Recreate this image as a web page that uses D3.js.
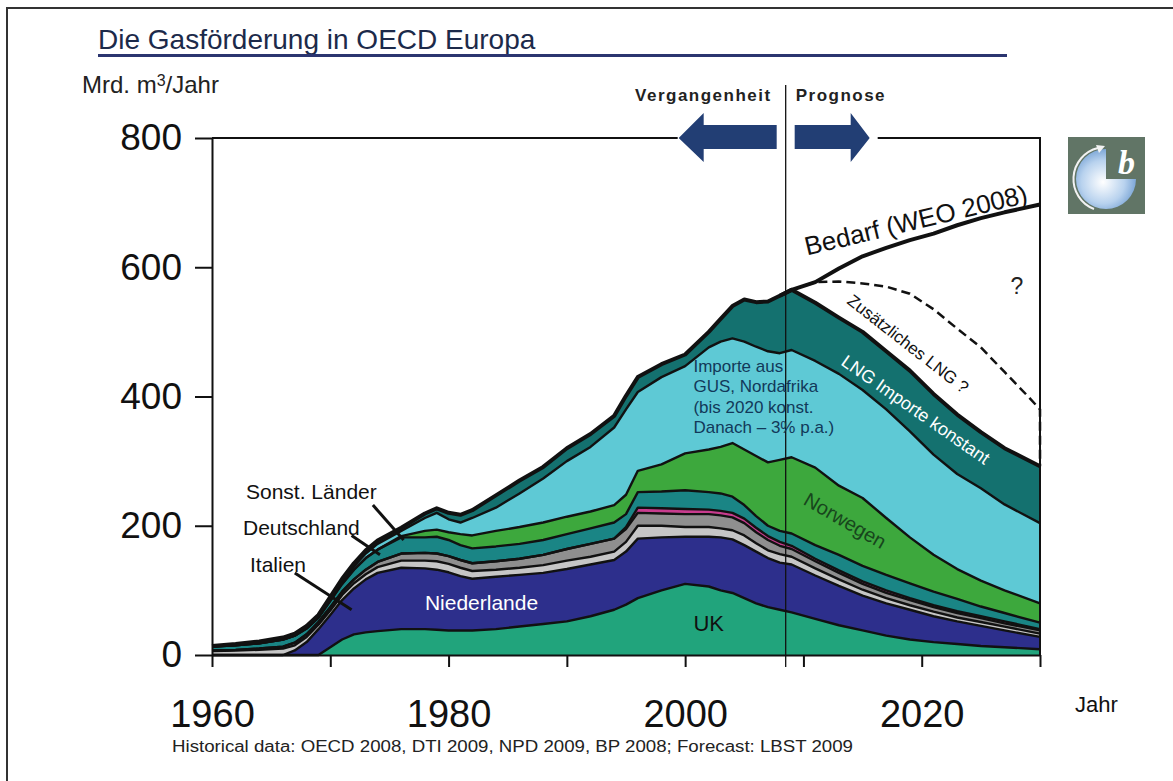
<!DOCTYPE html>
<html>
<head>
<meta charset="utf-8">
<script src="https://cdn.jsdelivr.net/npm/d3@7"></script>
<style>
  body { margin: 0; background: #fff; }
  svg { display: block; font-family: "Liberation Sans", Arial, sans-serif; }
</style>
</head>
<body>
<svg id="chart"></svg>
<script>
const width = 1173, height = 781;

// --- data (Mrd. m3/Jahr) ---
const years = [1960,1962,1964,1966,1967,1968,1969,1970,1971,1972,1973,1974,1976,1978,1979,1980,1981,1982,1984,1986,1988,1990,1992,1994,1995,1996,1998,2000,2002,2003,2004,2005,2006,2007,2008,2009,2011,2013,2015,2017,2019,2021,2023,2025,2027,2030];
const uk          = [0,0,0,0,0,0,0,12,24,32,35,37,40,40,39,38,38,38,40,44,48,52,60,70,78,88,100,110,106,100,96,88,80,74,70,66,56,46,38,30,24,20,17,14,12,9];
const niederlande = [0,0,0,0,7,20,40,50,61,71,82,90,95,94,93,90,84,80,81,80,79,81,80,77,82,92,82,73,77,82,83,82,80,76,73,74,67,61,54,50,46,40,35,31,26,19];
const italien     = [6,7,8,10,8,8,7,7,8,8,8,9,11,12,13,13,13,12,11,11,12,13,12,13,15,20,18,15,15,14,14,15,13,12,13,12,11,10,9,8,7,7,6,6,6,5];
const deutschland = [1,1,2,3,4,4,4,5,5,6,7,8,11,12,12,12,12,12,13,14,16,18,20,20,20,20,19,20,20,20,20,19,17,16,13,12,11,10,9,8,8,7,7,6,5,5];
const daenemark   = [0,0,0,0,0,0,0,0,0,0,0,0,0,0,0,0,0,0,0,0,0,0,0,0,3,8,8,8,7,7,7,7,7,6,6,5,4,4,4,4,3,3,3,3,3,2];
const sonstige    = [6,7,8,11,11,9,7,10,12,15,18,19,25,24,26,25,23,23,23,23,23,23,24,25,20,24,26,29,27,27,25,21,18,16,17,19,21,24,24,24,23,21,19,15,13,10];
const norwegen    = [0,0,0,0,0,0,0,0,0,0,0,0,2,10,11,12,17,20,24,26,27,27,26,27,30,33,42,57,66,72,83,86,93,98,110,118,120,107,105,88,71,57,46,40,35,30];
const importeGUS  = [0,0,0,0,0,1,1,2,3,5,7,9,8,20,26,20,18,27,36,52,68,86,100,120,132,122,135,135,158,163,162,167,169,172,165,166,165,173,167,168,164,155,147,143,133,124];
const lngImporte  = [1,2,3,3,3,3,3,4,5,5,5,5,5,7,7,10,12,12,19,20,18,20,20,18,21,23,20,18,24,35,50,65,69,77,89,93,90,87,90,90,94,94,92,87,87,88];

const demandYears = [2008,2009,2011,2013,2015,2017,2019,2021,2023,2025,2027,2030];
const demand      = [556,565,577,598,617,630,642,652,665,676,685,697];
const extraLngYears = [2009,2011,2013,2015,2017,2019,2021,2023,2025,2027,2029,2030,2030];
const extraLng      = [565,577,578,575,570,559,535,505,476,438,400,380,292];

const xTickYears = [1960,1970,1980,1990,2000,2010,2020,2030];
const xLabels = [1960,1980,2000,2020];
const yTicks = [0,200,400,600,800];
const splitYear = 2008.5;

const keys = ["uk","niederlande","italien","deutschland","daenemark","sonstige","norwegen","importeGUS","lngImporte"];
const colors = {
  uk: "#21a47c", niederlande: "#2d2f8c", italien: "#c6c6c6", deutschland: "#8f8f8f",
  daenemark: "#c83c8e", sonstige: "#1a8585", norwegen: "#3da83d", importeGUS: "#5ec9d5", lngImporte: "#14716f"
};
const series = {uk, niederlande, italien, deutschland, daenemark, sonstige, norwegen, importeGUS, lngImporte};
const table = years.map((yr, i) => {
  const row = {year: yr};
  keys.forEach(k => row[k] = series[k][i]);
  return row;
});

const svg = d3.select("#chart").attr("width", width).attr("height", height);

const x = d3.scaleLinear().domain([1960, 2030]).range([212, 1040]);
const y = d3.scaleLinear().domain([0, 800]).range([655, 138]);

// outer frame
svg.append("path").attr("d", "M7,781 V8 H1173").attr("fill", "none").attr("stroke", "#333").attr("stroke-width", 2);

// title
svg.append("text").attr("x", 98).attr("y", 49).attr("font-size", 28).attr("fill", "#1c2a4a")
   .text("Die Gasförderung in OECD Europa");
svg.append("line").attr("x1", 98).attr("x2", 1007).attr("y1", 55.5).attr("y2", 55.5)
   .attr("stroke", "#2b3570").attr("stroke-width", 3);

svg.append("text").attr("x", 82).attr("y", 93).attr("font-size", 24).attr("fill", "#222")
   .html("Mrd. m<tspan font-size='16' dy='-7'>3</tspan><tspan dy='7'>/Jahr</tspan>");

// stacked areas
const stacked = d3.stack().keys(keys)(table);
const area = d3.area().x(d => x(d.data.year)).y0(d => y(d[0])).y1(d => y(d[1]));
const topLine = d3.line().x(d => x(d.data.year)).y(d => y(d[1]));

svg.append("g").selectAll("path").data(stacked).join("path")
   .attr("d", area).attr("fill", d => colors[d.key]);

svg.append("g").selectAll("path").data(stacked).join("path")
   .attr("d", topLine).attr("fill", "none").attr("stroke", "#111")
   .attr("stroke-width", (d, i) => i === keys.length - 1 ? 4 : 2.4)
   .attr("stroke-linejoin", "round");

// demand and additional LNG
const line = d3.line().x(d => x(d[0])).y(d => y(d[1]));
svg.append("path").attr("d", line(demandYears.map((yr, i) => [yr, demand[i]])))
   .attr("fill", "none").attr("stroke", "#111").attr("stroke-width", 4).attr("stroke-linejoin", "round");
svg.append("path").attr("d", line(extraLngYears.map((yr, i) => [yr, extraLng[i]])))
   .attr("fill", "none").attr("stroke", "#111").attr("stroke-width", 2.5).attr("stroke-dasharray", "9,5");

// axes
const yAxis = svg.append("g").attr("transform", `translate(${x(1960)},0)`)
   .call(d3.axisLeft(y).tickValues(yTicks).tickSize(17).tickSizeOuter(0).tickPadding(13));
yAxis.selectAll("text").attr("font-size", 37).attr("fill", "#111").attr("font-family", "Liberation Sans, Arial, sans-serif");
yAxis.selectAll("line,path").attr("stroke", "#111").attr("stroke-width", 2);

const xAxis = svg.append("g").attr("transform", `translate(0,${y(0)})`)
   .call(d3.axisBottom(x).tickValues(xTickYears).tickSize(12).tickSizeOuter(0).tickPadding(33)
           .tickFormat(d => xLabels.includes(d) ? d : ""));
xAxis.selectAll("text").attr("font-size", 38).attr("fill", "#111").attr("font-family", "Liberation Sans, Arial, sans-serif");
xAxis.selectAll("line,path").attr("stroke", "#111").attr("stroke-width", 2);

svg.append("text").attr("x", 1075).attr("y", 712).attr("font-size", 22).attr("fill", "#111").text("Jahr");

// right and top frame of plot, split by the arrows
const xs = x(splitYear);
svg.append("path").attr("d", `M${x(1960)},${y(800)} H${xs - 108} M${xs + 92},${y(800)} H${x(2030)} V${y(0)}`)
   .attr("fill", "none").attr("stroke", "#111").attr("stroke-width", 2);

// divider past / forecast
svg.append("line").attr("x1", xs).attr("x2", xs).attr("y1", 85).attr("y2", y(0) + 12)
   .attr("stroke", "#111").attr("stroke-width", 1.3);

const arrowColor = "#223e74";
const ay = y(800);
svg.append("path").attr("fill", arrowColor)
   .attr("d", `M${xs - 107},${ay} L${xs - 82},${ay - 25} V${ay - 13} H${xs - 9} V${ay + 11} H${xs - 82} V${ay + 24} Z`);
svg.append("path").attr("fill", arrowColor)
   .attr("d", `M${xs + 84},${ay} L${xs + 65},${ay - 25} V${ay - 13} H${xs + 9} V${ay + 11} H${xs + 65} V${ay + 24} Z`);

svg.append("text").attr("x", xs - 14).attr("y", 101).attr("text-anchor", "end")
   .attr("font-size", 17).attr("font-weight", "bold").attr("letter-spacing", 1.5).attr("fill", "#222").text("Vergangenheit");
svg.append("text").attr("x", xs + 10).attr("y", 101)
   .attr("font-size", 17).attr("font-weight", "bold").attr("letter-spacing", 1.5).attr("fill", "#222").text("Prognose");

// in-chart labels
function rotLabel(yr, val, angle, txt, size, fill) {
  svg.append("text").attr("transform", `translate(${x(yr)},${y(val)}) rotate(${angle})`)
     .attr("font-size", size).attr("fill", fill).text(txt);
}
rotLabel(2010.3, 618, -13.5, "Bedarf (WEO 2008)", 26, "#111");
rotLabel(2013.6, 545, 38, "Zusätzliches LNG ?", 17, "#111");
rotLabel(2013.1, 450, 35, "LNG Importe konstant", 18, "#fff");
rotLabel(2009.9, 234, 30, "Norwegen", 20, "#17451c");
svg.append("text").attr("x", x(2027.5)).attr("y", y(558)).attr("font-size", 23).attr("fill", "#222").text("?");

const gusLines = ["Importe aus", "GUS, Nordafrika", "(bis 2020 konst.", "Danach – 3% p.a.)"];
svg.append("g").selectAll("text").data(gusLines).join("text")
   .attr("x", x(2000.7)).attr("y", (d, i) => y(438) + i * 20.5)
   .attr("font-size", 17).attr("fill", "#12395a").text(d => d);

svg.append("text").attr("x", x(1978)).attr("y", y(70)).attr("font-size", 21).attr("fill", "#fff").text("Niederlande");
svg.append("text").attr("x", x(2000.7)).attr("y", y(37)).attr("font-size", 22).attr("fill", "#111").text("UK");

const callouts = [
  {txt: "Sonst. Länder", tx: 246, ty: 499, from: [1973.6, 232], to: [1976.2, 178]},
  {txt: "Deutschland",   tx: 243, ty: 535, from: [1971.8, 185], to: [1974.2, 155]},
  {txt: "Italien",       tx: 250, ty: 572, from: [1967.0, 127], to: [1971.8, 70]}
];
callouts.forEach(c => {
  svg.append("text").attr("x", c.tx).attr("y", c.ty).attr("font-size", 21).attr("fill", "#111").text(c.txt);
  svg.append("line").attr("x1", x(c.from[0])).attr("y1", y(c.from[1]))
     .attr("x2", x(c.to[0])).attr("y2", y(c.to[1])).attr("stroke", "#111").attr("stroke-width", 3);
});

// footnote
svg.append("text").attr("x", 172).attr("y", 752).attr("font-size", 16).attr("fill", "#222")
   .attr("font-family", "Liberation Sans Narrow, Arial Narrow, sans-serif")
   .attr("textLength", 681).attr("lengthAdjust", "spacingAndGlyphs")
   .text("Historical data: OECD 2008, DTI 2009, NPD 2009, BP 2008; Forecast: LBST 2009");

// logo
const logo = svg.append("g").attr("transform", "translate(1068,137)");
const grad = svg.append("defs").append("radialGradient").attr("id", "globe").attr("cx", "45%").attr("cy", "55%").attr("r", "60%");
grad.append("stop").attr("offset", "0%").attr("stop-color", "#ffffff");
grad.append("stop").attr("offset", "60%").attr("stop-color", "#b8d2ee");
grad.append("stop").attr("offset", "100%").attr("stop-color", "#6d9bd0");
logo.append("rect").attr("width", 77).attr("height", 77).attr("fill", "#617566");
logo.append("path").attr("d", "M38,42 L68,42 A30,30 0 1 1 38,12 Z").attr("fill", "url(#globe)");
logo.append("path").attr("d", "M26,72 A32,32 0 0 1 30,11").attr("fill", "none").attr("stroke", "#f2f2f2").attr("stroke-width", 2);
logo.append("path").attr("d", "M28,8 L37,9 L31,16 Z").attr("fill", "#f2f2f2");
logo.append("text").attr("x", 50).attr("y", 37).attr("font-size", 34).attr("font-style", "italic")
   .attr("font-weight", "bold").attr("font-family", "Liberation Serif, serif").attr("fill", "#fff").text("b");
</script>
</body>
</html>
